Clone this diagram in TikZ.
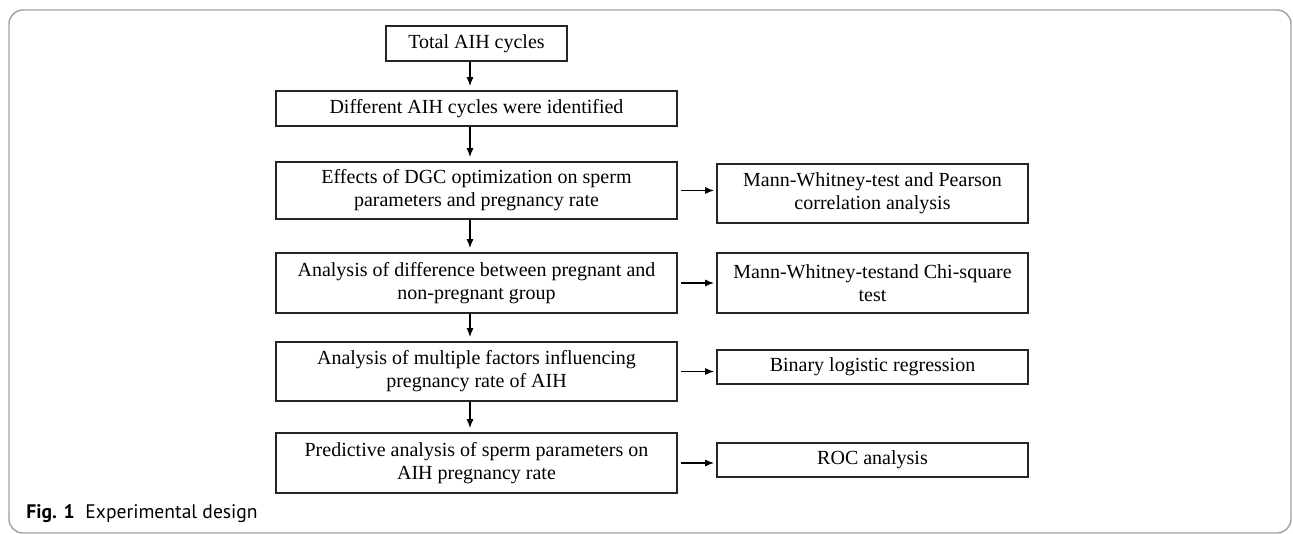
\documentclass[tikz,border=0pt]{standalone}
\usepackage{fontspec}
\setmainfont{Liberation Serif}
\newfontfamily\capfont{PT Sans}
\usetikzlibrary{arrows.meta,positioning,calc}

\begin{document}
\begin{tikzpicture}[x=0.5pt,y=-0.5pt,
    box/.style={draw=black!85, line width=0.85pt, align=center, inner sep=0pt,
        font=\fontsize{10}{11.5}\selectfont},
    leftbox/.style={box, minimum width=200.5pt},
    rightbox/.style={box, minimum width=155.5pt},
    arr/.style={-{Latex[length=4.5pt,width=3.5pt]}, line width=0.65pt}]
    \useasboundingbox (0,0) rectangle (1293,534);

    % Frame and caption
    \draw[gray!75, line width=0.7pt, rounded corners=7pt] (9,10) rectangle (1291,533);
    \node[anchor=base west, inner sep=0pt, font=\capfont\fontsize{9.8}{11}\selectfont] (cap) at (26,518)
        {\textbf{Fig. 1}\hspace{0.55em}Experimental design};

    % Main column
    \node[box, minimum width=90.5pt, minimum height=17.5pt] (total) at (476.5,43.5) {Total AIH cycles};
    \node[leftbox, minimum height=17.5pt] (ident) at (476.5,108.5) {Different AIH cycles were identified};
    \node[leftbox, minimum height=28.5pt] (dgc) at (476.5,190.5) {Effects of DGC optimization on sperm\\parameters and pregnancy rate};
    \node[leftbox, minimum height=30pt] (diff) at (476.5,283) {Analysis of difference between pregnant and\\non-pregnant group};
    \node[leftbox, minimum height=29.5pt] (multi) at (476.5,371.5) {Analysis of multiple factors influencing\\pregnancy rate of AIH};
    \node[leftbox, minimum height=30pt] (pred) at (476.5,463) {Predictive analysis of sperm parameters on\\AIH pregnancy rate};

    % Statistical methods
    \node[rightbox, minimum height=29.5pt] (pearson) at (872.5,193.5) {Mann-Whitney-test and Pearson\\correlation analysis};
    \node[rightbox, minimum height=30pt] (chi) at (872.5,283) {Mann-Whitney-testand Chi-square\\test};
    \node[rightbox, minimum height=17pt] (logit) at (872.5,367) {Binary logistic regression};
    \node[rightbox, minimum height=17pt] (roc) at (872.5,460) {ROC analysis};

    % Arrows down
    \coordinate (spine) at (470,0);
    \foreach \a/\b in {total/ident, ident/dgc, dgc/diff, diff/multi, multi/pred}
        \draw[arr, shorten >=2pt] (\a.south -| spine) -- (\b.north -| spine);

    % Arrows right
    \foreach \a/\b in {dgc/pearson, diff/chi, multi/logit, pred/roc}
        \draw[arr, shorten <=1.5pt, shorten >=1pt] (\a.east) -- (\a.east -| \b.west);
\end{tikzpicture}
\end{document}
